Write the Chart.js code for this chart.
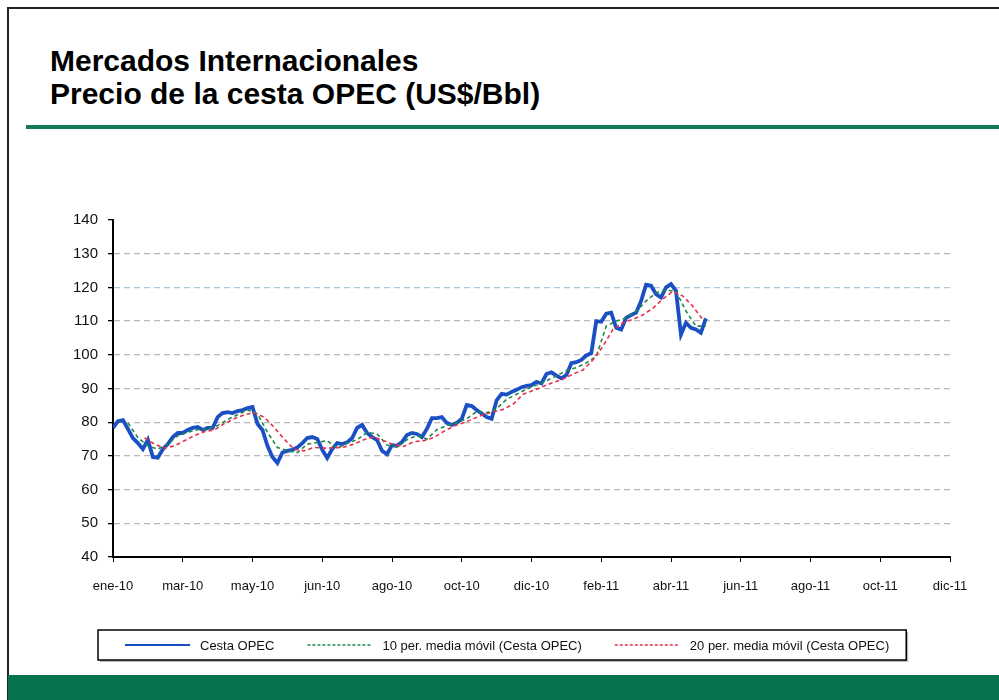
<!DOCTYPE html>
<html>
<head>
<meta charset="utf-8">
<script src="https://cdn.jsdelivr.net/npm/chart.js@4.4.0/dist/chart.umd.min.js"></script>
<style>
  body { margin: 0; background: #fff; font-family: "Liberation Sans", Arial, sans-serif; }
  #page { position: relative; width: 999px; height: 700px; overflow: hidden; background: #fff; }
  #frame { position: absolute; left: 7px; top: 7px; width: 995px; height: 705px; border: 2px solid #222; box-sizing: border-box; }
  #title { position: absolute; left: 50px; top: 44px; font-weight: bold; font-size: 30px; line-height: 33px; color: #000; }
  #rule { position: absolute; left: 26px; right: 0; top: 125px; height: 4px; background: #137a58; }
  #band { position: absolute; left: 8px; right: 0; top: 675px; height: 25px; background: #06734f; }
  #wrap { position: absolute; left: 0; top: 190px; width: 999px; height: 480px; }
</style>
</head>
<body>
<div id="page">
  <div id="frame"></div>
  <div id="title">Mercados Internacionales<br>Precio de la cesta OPEC (US$/Bbl)</div>
  <div id="rule"></div>
  <div id="wrap"><canvas id="chart"></canvas></div>
  <div id="band"></div>
</div>
<script>
// eje x: un rótulo cada 42 ruedas
const xLabels = ['ene-10', 'mar-10', 'may-10', 'jun-10', 'ago-10', 'oct-10', 'dic-10',
  'feb-11', 'abr-11', 'jun-11', 'ago-11', 'oct-11', 'dic-11'];
const daysPerLabel = 42;

// Cesta OPEC, una lectura cada 3 ruedas desde ene-10
const cestaStep = 3;
const cesta = [
  78.3, 80.3, 80.6, 78.0, 75.3, 73.8, 72.0, 74.8, 69.7, 69.5,
  72.0, 73.5, 75.6, 76.8, 76.8, 77.7, 78.3, 78.6, 77.7, 78.3,
  78.3, 81.5, 82.7, 83.0, 82.7, 83.3, 83.6, 84.2, 84.5, 79.5,
  77.7, 73.0, 69.7, 67.9, 71.0, 71.5, 71.8, 72.5, 73.8, 75.3,
  75.6, 75.0, 71.8, 69.4, 72.0, 73.8, 73.5, 74.0, 75.3, 78.3,
  79.2, 76.8, 75.6, 74.7, 71.5, 70.5, 73.2, 73.0, 74.1, 76.2,
  76.8, 76.5, 75.6, 78.0, 81.2, 81.2, 81.5, 79.8, 79.2, 79.8,
  81.0, 85.1, 84.8, 83.6, 82.6, 81.5, 81.0, 86.5, 88.4, 88.2,
  89.0, 89.6, 90.4, 90.8, 91.0, 92.0, 91.5, 94.3, 94.8, 93.8,
  93.0, 94.0, 97.5, 97.8, 98.5, 99.8, 100.5, 110.0, 109.8, 112.2,
  112.5, 108.0, 107.5, 111.0, 111.8, 112.5, 116.0, 120.8, 120.5, 118.0,
  117.0, 120.0, 121.0, 119.0, 106.0, 109.5, 108.0, 107.5, 106.5, 110.8
];

// medias móviles, una lectura cada 6 ruedas
const maStep = 6;
const ma10Start = 9;
const ma10 = [
  79.8, 75.4, 73.0, 72.0, 73.5, 76.0, 77.0, 77.8, 78.0, 79.0,
  80.8, 82.2, 83.6, 82.5, 77.0, 72.5, 71.5, 71.0, 73.5, 74.0,
  74.5, 72.2, 73.8, 74.8, 77.0, 76.5, 73.2, 72.6, 74.8, 76.0,
  75.0, 77.8, 79.0, 79.8, 81.0, 83.2, 82.8, 84.0, 86.8, 88.3,
  89.8, 91.0, 92.3, 93.8, 95.3, 96.2, 97.6, 99.5, 108.5, 110.0,
  111.0, 112.8, 116.0, 118.4, 119.2, 118.8, 113.0, 108.5, 108.5
];
const ma20Start = 19;
const ma20 = [
  75.3, 73.5, 72.3, 73.0, 74.5, 76.0, 77.2, 77.7, 79.6, 81.0,
  82.2, 82.8, 81.5, 78.5, 75.0, 72.0, 71.5, 72.5, 72.3, 72.4,
  72.6, 73.5, 74.8, 75.6, 74.5, 73.3, 72.8, 74.2, 74.5, 75.4,
  77.2, 78.8, 79.8, 81.0, 82.3, 83.0, 83.8, 85.4, 88.3, 89.4,
  90.6, 91.8, 92.8, 94.3, 95.5, 98.5, 102.5, 107.5, 109.5, 110.5,
  111.8, 113.8, 116.5, 118.8, 117.5, 114.5, 110.5
];

const labelNames = ['Cesta OPEC', '10 per. media móvil (Cesta OPEC)', '20 per. media móvil (Cesta OPEC)'];

const toPoints = (arr, start, step) => arr.map((v, i) => ({ x: start + i * step, y: v }));
const FONT = '"Liberation Sans", Arial, sans-serif';

// leyenda con recuadro, como en la lámina original
const boxLegend = {
  id: 'boxLegend',
  afterDraw(chart) {
    const ctx = chart.ctx;
    const left = 98, top = 440, height = 30;
    const cy = top + height / 2;
    ctx.save();
    ctx.font = '13px ' + FONT;
    let x = left + 27;
    const spans = [];
    chart.data.datasets.forEach((ds, i) => {
      const w = ctx.measureText(ds.label).width;
      spans.push({ ds, i, x, w });
      x += 65 + 10 + w + 33;
    });
    const right = x - 33 + 17;
    ctx.fillStyle = '#bbb';
    ctx.fillRect(left + 2, top + 2, right - left, height);
    ctx.fillStyle = '#fff';
    ctx.fillRect(left, top, right - left, height);
    ctx.strokeStyle = '#000';
    ctx.lineWidth = 1.5;
    ctx.strokeRect(left, top, right - left, height);
    spans.forEach(s => {
      ctx.beginPath();
      ctx.strokeStyle = s.ds.borderColor;
      ctx.lineWidth = s.i === 0 ? 2 : 1.5;
      ctx.setLineDash(s.i === 0 ? [] : [3, 2]);
      ctx.moveTo(s.x, cy);
      ctx.lineTo(s.x + 65, cy);
      ctx.stroke();
      ctx.setLineDash([]);
      ctx.fillStyle = '#111';
      ctx.textBaseline = 'middle';
      ctx.fillText(s.ds.label, s.x + 75, cy + 1);
    });
    ctx.restore();
  }
};

new Chart(document.getElementById('chart'), {
  type: 'line',
  data: {
    datasets: [
      {
        label: labelNames[0],
        data: toPoints(cesta, 0, cestaStep),
        borderColor: '#1b4fc4',
        borderWidth: 3.8,
        pointRadius: 0,
        tension: 0,
        order: 3
      },
      {
        label: labelNames[1],
        data: toPoints(ma10, ma10Start, maStep),
        borderColor: '#1f8a4c',
        borderWidth: 1.6,
        borderDash: [4, 3],
        pointRadius: 0,
        tension: 0,
        order: 2
      },
      {
        label: labelNames[2],
        data: toPoints(ma20, ma20Start, maStep),
        borderColor: '#e8304a',
        borderWidth: 1.6,
        borderDash: [4, 3],
        pointRadius: 0,
        tension: 0,
        order: 1
      }
    ]
  },
  options: {
    responsive: true,
    maintainAspectRatio: false,
    animation: false,
    layout: { padding: { left: 62, right: 49, top: 30, bottom: 38 } },
    plugins: {
      tooltip: { enabled: false },
      legend: { display: false }
    },
    scales: {
      x: {
        type: 'linear',
        min: 0,
        max: daysPerLabel * (xLabels.length - 1),
        afterBuildTicks(scale) {
          scale.ticks = xLabels.map((_, i) => ({ value: i * daysPerLabel }));
        },
        afterFit(scale) { scale.height = 75; },
        ticks: {
          autoSkip: false,
          maxRotation: 0,
          padding: 17,
          color: '#111',
          font: { family: FONT, size: 13 },
          callback: (v) => xLabels[Math.round(v / daysPerLabel)]
        },
        grid: { drawOnChartArea: false, drawTicks: true, tickLength: 5, tickColor: '#000' },
        border: { color: '#000', width: 2 }
      },
      y: {
        min: 40,
        max: 140,
        afterFit(scale) { scale.width = 51; },
        ticks: {
          stepSize: 10,
          padding: 10,
          color: '#111',
          font: { family: FONT, size: 15 }
        },
        grid: {
          color: (ctx) => {
            const v = ctx.tick && ctx.tick.value;
            if (v === 140 || v === 40) return 'rgba(0,0,0,0)';
            if (v === 120) return '#a8c8d8';
            return '#b8b8b8';
          },
          tickBorderDash: [],
          tickLength: 5,
          tickColor: '#000',
          lineWidth: 1.3
        },
        border: { color: '#000', width: 2, dash: [6, 4] }
      }
    }
  },
  plugins: [boxLegend]
});
</script>
</body>
</html>
